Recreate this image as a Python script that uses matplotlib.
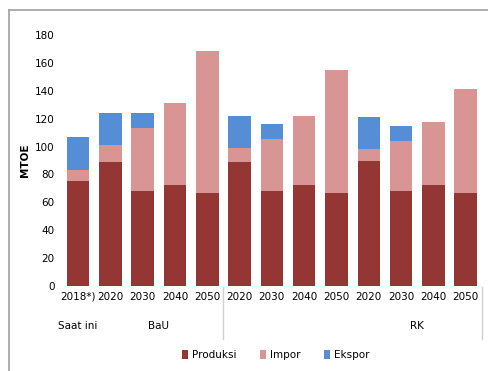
import matplotlib
matplotlib.use("Agg")
from matplotlib import pyplot as plt
from matplotlib.lines import Line2D
import numpy as np

plt.rcParams['font.family'] = ['Liberation Sans Narrow', 'DejaVu Sans']

# energy balance per scenario and year (MTOE)
years = ['2018*)', '2020', '2030', '2040', '2050',
         '2020', '2030', '2040', '2050',
         '2020', '2030', '2040', '2050']
groups = ['Saat ini', 'BaU', '', 'RK']
group_pos = [0, 2.5, 6.5, 10.5]
produksi = [75.5, 89, 68, 72.5, 66.5, 89, 68, 72.5, 66.5, 90, 68, 72.5, 66.5]
impor = [7.5, 12, 45, 58.5, 102, 10, 37.5, 49.5, 88.5, 8, 36, 45, 75]
ekspor = [24, 23, 11, 0, 0, 23, 10.5, 0, 0, 23.5, 10.5, 0, 0]

c_prod = '#943634'
c_imp = '#D99594'
c_eks = '#558ED5'

fig = plt.figure(figsize=(4.88, 3.71), dpi=100)
ax = fig.add_axes([0.1266, 0.229, 0.861, 0.6766])

x = np.arange(len(years))
p = np.array(produksi)
i = np.array(impor)
e = np.array(ekspor)
ax.bar(x, p, 0.7, color=c_prod, label='Produksi')
ax.bar(x, i, 0.7, bottom=p, color=c_imp, label='Impor')
ax.bar(x, e, 0.7, bottom=p + i, color=c_eks, label='Ekspor')

ax.set_xlim(-0.5, len(years) - 0.5)
ax.set_ylim(0, 180)
ax.set_yticks(np.arange(0, 181, 20))
ax.tick_params(axis='y', length=0, pad=5, labelsize=7.5)
ax.set_xticks(x)
ax.set_xticklabels(years, fontsize=7.5)
ax.tick_params(axis='x', length=0, pad=4)
for s in ax.spines.values():
    s.set_visible(False)
ax.set_ylabel('MTOE', fontsize=7.5, fontweight='bold', labelpad=4)

for g, gx in zip(groups, group_pos):
    ax.text(gx, -29, g, ha='center', va='center', fontsize=7.5,
            transform=ax.transData, clip_on=False)

# group separators under the category axis
for sx in [4.5, 12.5]:
    ax.plot([sx, sx], [-1, -38], color='#d0d0d0', lw=1, clip_on=False)

# outer frame (top and left edge)
fig.add_artist(Line2D([9/488, 1], [1 - 10/371, 1 - 10/371], color='#a0a0a0', lw=1.2))
fig.add_artist(Line2D([9/488, 9/488], [0, 1 - 10/371], color='#a0a0a0', lw=1.2))

leg = fig.legend(loc='center', bbox_to_anchor=(0.565, 1 - 355/371), ncol=3,
                 frameon=False, fontsize=7.5, handlelength=0.6, handleheight=0.9,
                 columnspacing=2.2, handletextpad=0.4)

fig.savefig('out.png', dpi=100)
